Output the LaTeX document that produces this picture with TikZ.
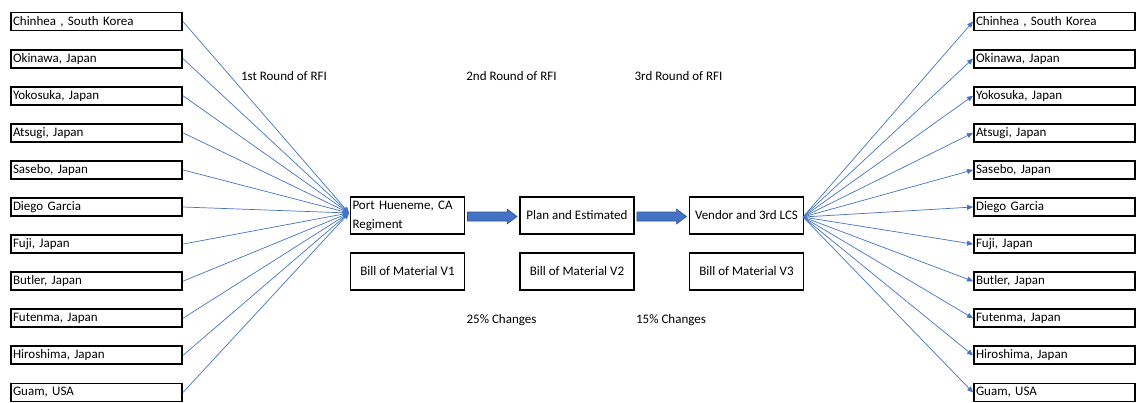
\documentclass[tikz,border=0pt]{standalone}
\usepackage{fontspec}
\setmainfont{Carlito}
\usetikzlibrary{arrows.meta,calc}

\definecolor{officeblue}{HTML}{4472C4}
\definecolor{officeedge}{HTML}{2F528F}

\tikzset{
  txt/.style={font=\fontsize{13}{19}\selectfont},
  box/.style={draw=black, line width=1.9pt, inner ysep=0pt, inner xsep=2pt, txt},
  site/.style={box, minimum height=18pt, align=left},
  lsite/.style={site, text width=167pt},
  rsite/.style={site, text width=157pt},
  stage/.style={box, minimum width=114pt, minimum height=37pt, align=center},
  flow/.style={draw=officeblue, line width=0.7pt, -{Triangle[length=6pt,width=5pt]}},
  blockarrow/.style={fill=officeblue, draw=officeedge, line width=0.6pt},
  note/.style={txt, inner sep=0pt}
}

% thick block arrow from the east side of #1 to the west side of #2
\newcommand\blockarrow[2]{%
  \path[blockarrow] let \p1=(#1.east), \p2=(#2.west) in
    (\x1+2pt,\y1+3.5pt) -- (\x2-12pt,\y1+3.5pt) -- (\x2-12pt,\y1+6.5pt)
    -- (\x2-2pt,\y1-1pt) -- (\x2-12pt,\y1-8.5pt) -- (\x2-12pt,\y1-5.5pt)
    -- (\x1+2pt,\y1-5.5pt) -- cycle;}

\begin{document}
\begin{tikzpicture}[x=1pt,y=-1pt]
\useasboundingbox (0,0) rectangle (1136,402);

% site lists on both sides
\foreach \name [count=\i] in {{Chinhea , South Korea},{Okinawa, Japan},{Yokosuka, Japan},
    {Atsugi, Japan},{Sasebo, Japan},{Diego Garcia},{Fuji, Japan},{Butler, Japan},
    {Futenma, Japan},{Hiroshima, Japan},{Guam, USA}}{
  \node[lsite] (L\i) at (96.5, {21.5+37.1*(\i-1)}) {\name};
  \node[rsite] (R\i) at (1054.5, {21.5+37.1*(\i-1)}) {\name};
}

% process stages
\node[stage, align=left, text width=110pt] (port) at (407.5,215.5) {Port Hueneme, CA\\Regiment};
\node[stage] (plan) at (577,215.5) {Plan and Estimated};
\node[stage] (vendor) at (746.5,215.5) {Vendor and 3rd LCS};
\node[stage] (bom1) at (407.5,271.5) {Bill of Material V1};
\node[stage] (bom2) at (577,271.5) {Bill of Material V2};
\node[stage] (bom3) at (746.5,271.5) {Bill of Material V3};

% labels
\node[note] (r1) at (284,76) {1st Round of RFI};
\node[note] (r2) at (511.5,76) {2nd Round of RFI};
\node[note] (r3) at (678.5,76) {3rd Round of RFI};
\node[note] (c25) at (501.5,320) {25\% Changes};
\node[note] (c15) at (671,320) {15\% Changes};

% gathering and distribution points
\coordinate (hub) at (349,213);
\coordinate (vhub) at (803,217);

\foreach \i in {1,...,11}{
  \draw[flow] (L\i.east) -- (hub);
  \draw[flow] (vhub) -- (R\i.west);
}

\blockarrow{port}{plan}
\blockarrow{plan}{vendor}
\end{tikzpicture}
\end{document}
